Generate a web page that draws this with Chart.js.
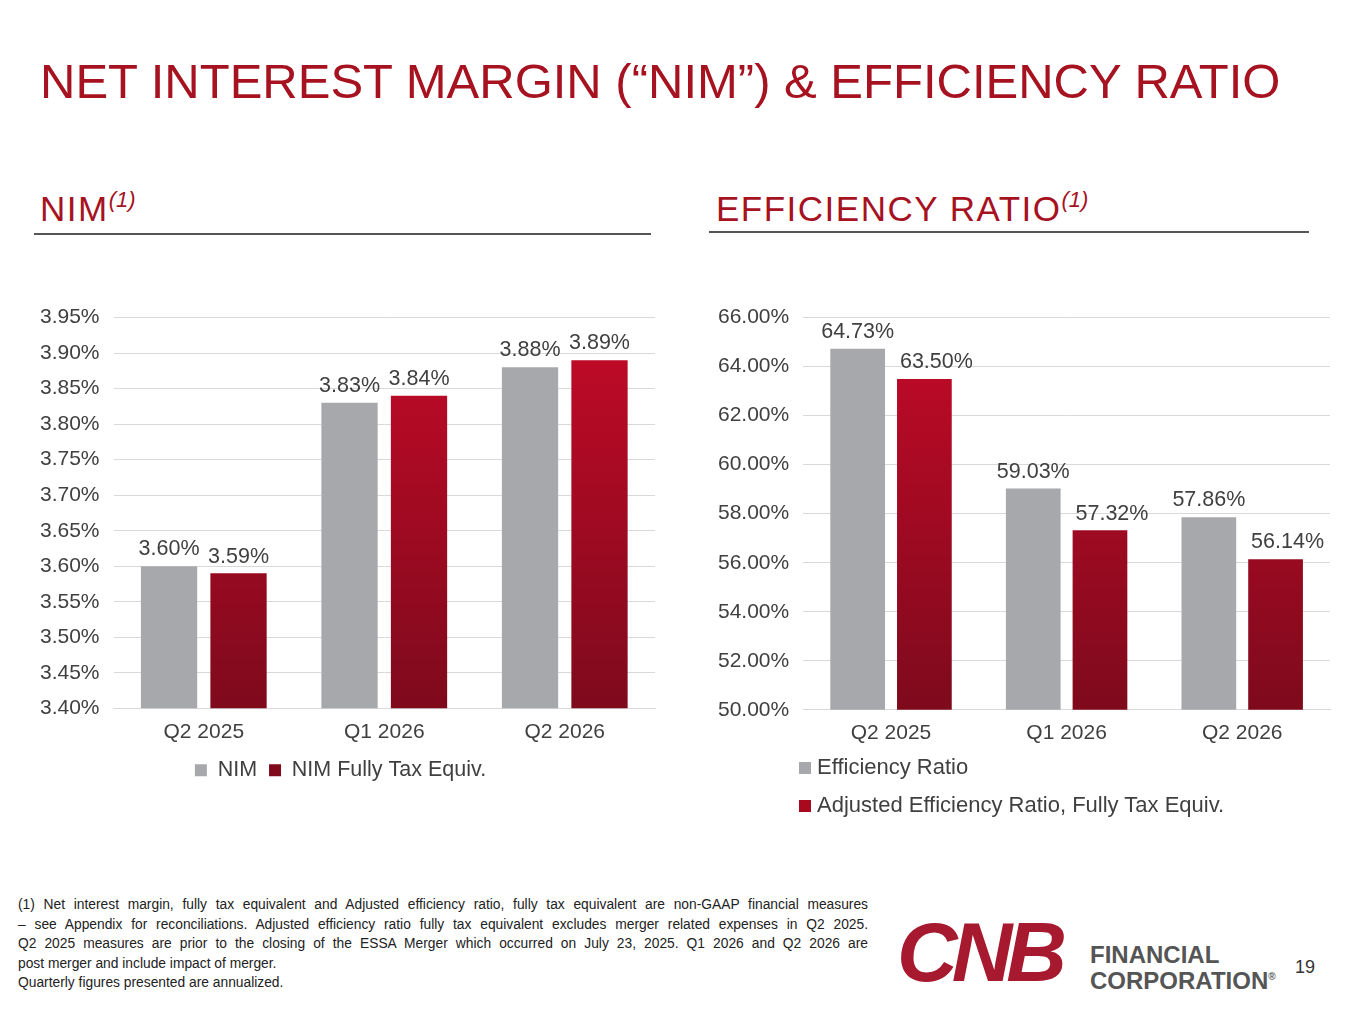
<!DOCTYPE html>
<html><head><meta charset="utf-8">
<script src="https://cdn.jsdelivr.net/npm/chart.js@4.4.0/dist/chart.umd.min.js"></script>
<style>
body{margin:0;width:1365px;height:1024px;background:#fff;font-family:"Liberation Sans",Arial,sans-serif;position:relative;overflow:hidden}
.abs{position:absolute}
h1{position:absolute;left:40px;top:53px;margin:0;font-weight:normal;font-size:49px;color:#A6121F}
.sub{font-size:35px;color:#A6121F;letter-spacing:1.5px}
.sub sup{font-size:22px;font-style:italic;vertical-align:14px;letter-spacing:0}
.rule{height:2px;background:#555}
.leg{font-size:22px;color:#404040;line-height:38px}
.leg span{display:inline-block;width:12px;height:12px;margin-right:6px}
.foot{left:18px;top:895px;width:850px;font-size:13.8px;line-height:19.5px;color:#222}
.foot div{text-align:justify;text-align-last:justify}
.foot div.l{text-align-last:left}
</style></head><body>
<h1>NET INTEREST MARGIN (“NIM”) &amp; EFFICIENCY RATIO</h1>
<div class="abs sub" style="left:40px;top:187px">NIM<sup>(1)</sup></div>
<div class="abs rule" style="left:34px;top:233px;width:617px"></div>
<div class="abs sub" style="left:716px;top:187px">EFFICIENCY RATIO<sup>(1)</sup></div>
<div class="abs rule" style="left:709px;top:231px;width:600px"></div>
<div class="abs" style="left:20px;top:291px;width:645px;height:500px"><canvas id="nim"></canvas></div>
<div class="abs" style="left:700px;top:291px;width:645px;height:458px"><canvas id="eff"></canvas></div>
<div class="abs leg" style="left:799px;top:748px">
<div><span style="background:#A6A8AB"></span>Efficiency Ratio</div>
<div><span style="background:#A8091F"></span>Adjusted Efficiency Ratio, Fully Tax Equiv.</div>
</div>
<div class="abs foot">
<div>(1) Net interest margin, fully tax equivalent and Adjusted efficiency ratio, fully tax equivalent are non-GAAP financial measures</div>
<div>– see Appendix for reconciliations. Adjusted efficiency ratio fully tax equivalent excludes merger related expenses in Q2 2025.</div>
<div>Q2 2025 measures are prior to the closing of the ESSA Merger which occurred on July 23, 2025. Q1 2026 and Q2 2026 are</div>
<div class="l">post merger and include impact of merger.</div>
<div class="l">Quarterly figures presented are annualized.</div>
</div>
<div class="abs" style="left:897px;top:912px;font-size:84px;font-weight:bold;color:#A6192E;letter-spacing:-6px;line-height:80px;font-style:italic">CNB</div>
<div class="abs" style="left:1090px;top:944px;font-size:24px;color:#555;line-height:22px;font-weight:bold">FINANCIAL<br>CORPORATION<sup style="font-size:10px">®</sup></div>
<div class="abs" style="left:1295px;top:957px;font-size:18px;color:#333">19</div>
<script>
const quarters = ["Q2 2025", "Q1 2026", "Q2 2026"];
const nim = [3.60, 3.83, 3.88];
const nimFte = [3.59, 3.84, 3.89];
const effRatio = [64.73, 59.03, 57.86];
const adjEffRatio = [63.50, 57.32, 56.14];

const gray = "#A6A8AB";
function redGrad(ctx) {
    const ca = ctx.chart.chartArea;
    if (!ca) return "#A8091F";
    const g = ctx.chart.ctx.createLinearGradient(0, ca.top, 0, ca.bottom);
    g.addColorStop(0, "#C40A28");
    g.addColorStop(1, "#7E0A1C");
    return g;
}

const labelPlugin = {
    id: "valLabels",
    afterDatasetsDraw(chart, args, opts) {
        const c = chart.ctx;
        c.save();
        c.font = "21.5px 'Liberation Sans', Arial";
        c.fillStyle = "#404040";
        c.textAlign = "center";
        c.textBaseline = "bottom";
        chart.data.datasets.forEach((ds, i) => {
            chart.getDatasetMeta(i).data.forEach((bar, j) => {
                c.fillText(ds.data[j].toFixed(2) + "%", bar.x + (opts.dx ? opts.dx[i] : 0), bar.y - 6);
            });
        });
        c.restore();
    }
};

Chart.defaults.font.family = "'Liberation Sans', Arial";
Chart.defaults.font.size = 21;
Chart.defaults.color = "#404040";

new Chart(document.getElementById("nim"), {
    type: "bar",
    data: {
        labels: quarters,
        datasets: [
            { label: "NIM", data: nim, backgroundColor: gray },
            { label: "NIM Fully Tax Equiv.", data: nimFte, backgroundColor: redGrad }
        ]
    },
    options: {
        responsive: true, maintainAspectRatio: false, animation: false,
        categoryPercentage: 0.77, barPercentage: 0.81,
        layout: { padding: { top: 14, right: 10, left: 6 } },
        scales: {
            y: { min: 3.40, max: 3.95, ticks: { stepSize: 0.05, padding: 14, callback: v => v.toFixed(2) + "%" },
                 grid: { color: "#D9D9D9", drawTicks: false }, border: { display: false } },
            x: { grid: { display: false }, border: { color: "#D9D9D9" } }
        },
        plugins: {
            legend: { position: "bottom", labels: { boxWidth: 12, boxHeight: 12, padding: 12, font: { size: 21.5 } } },
            tooltip: { enabled: false },
            valLabels: {}
        }
    },
    plugins: [labelPlugin]
});

new Chart(document.getElementById("eff"), {
    type: "bar",
    data: {
        labels: quarters,
        datasets: [
            { label: "Efficiency Ratio", data: effRatio, backgroundColor: gray },
            { label: "Adjusted Efficiency Ratio, Fully Tax Equiv.", data: adjEffRatio, backgroundColor: redGrad }
        ]
    },
    options: {
        responsive: true, maintainAspectRatio: false, animation: false,
        categoryPercentage: 0.76, barPercentage: 0.82,
        layout: { padding: { top: 14, right: 15, left: 4 } },
        scales: {
            y: { min: 50, max: 66, ticks: { stepSize: 2, padding: 14, callback: v => v.toFixed(2) + "%" },
                 grid: { color: "#D9D9D9", drawTicks: false }, border: { display: false } },
            x: { grid: { display: false }, border: { color: "#D9D9D9" } }
        },
        plugins: {
            legend: { display: false },
            tooltip: { enabled: false },
            valLabels: { dx: [0, 12] }
        }
    },
    plugins: [labelPlugin]
});
</script>
</body></html>
